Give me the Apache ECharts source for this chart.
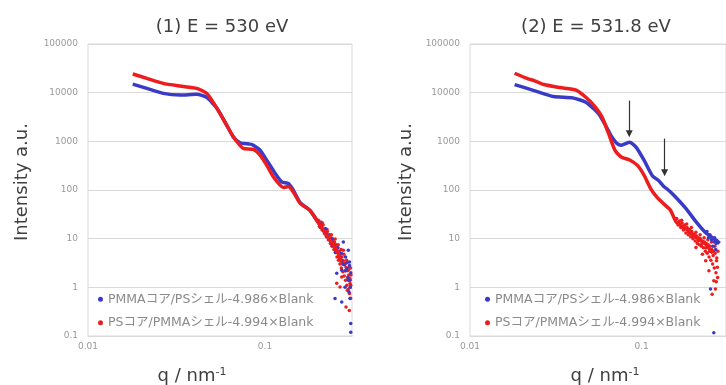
<!DOCTYPE html>
<html><head><meta charset="utf-8">
<script src="https://cdn.jsdelivr.net/npm/echarts@6/dist/echarts.min.js"></script>
<style>html,body{margin:0;padding:0;background:#fff}#c{width:726px;height:385px}</style>
</head><body><div id="c"></div>
<script>
// ---- data ----
const nameBlue = 'PMMAコア/PSシェル-4.986×Blank';
const nameRed = 'PSコア/PMMAシェル-4.994×Blank';
const titles = ['(1) E = 530 eV', '(2) E = 531.8 eV'];
const yTicks = [0.1, 1, 10, 100, 1000, 10000, 100000];
const xTicks = [0.01, 0.1];

// Panel 1 (E = 530 eV)
const q1Blue = [0.0179,0.0215,0.0266,0.0331,0.0411,0.0468,0.0534,0.0607,0.0662,0.0723,0.0823,0.0859,0.0937,0.1022,0.1139,0.1243,0.1354,0.1445,0.158,0.1796,0.1959,0.2135,0.233,0.254];
const I1Blue = [15030,12260,9675,8925,9226,8004,4820,2155,1238,931,876,835,659,410,222,147,136,99,55,38,24,15,9.3,5.9];
const q1Red = [0.0179,0.0215,0.0266,0.0331,0.0411,0.0468,0.0534,0.0607,0.0662,0.0707,0.0754,0.0859,0.0937,0.1022,0.1114,0.1216,0.1269,0.1354,0.1445,0.158,0.1796,0.1959,0.2135,0.233,0.2542,0.27];
const I1Red = [24150,19680,15540,13670,12260,9675,4820,2155,1238,905,714,681,520,324,186,126,113,118,91,53,38,24,15,9.3,5.8,3.3];
const q1BlueTail = [0.205,0.215,0.225,0.235,0.245,0.255,0.265,0.275,0.285,0.295,0.3,0.303,0.24,0.25,0.262,0.27,0.277,0.28,0.285,0.29,0.2954,0.3,0.3021,0.2954,0.2542,0.2712,0.2486,0.2712,0.3021,0.3049,0.3049,0.283,0.298,0.22,0.24,0.258,0.27,0.29,0.305];
const I1BlueTail = [20,15,12,9,7.5,5.5,4.2,3,2.2,1.6,2.8,1.0,7.2,5.2,4.6,3.6,8.5,2.9,4.2,2.4,5.8,3.3,1.4,1.39,1.94,2.24,0.59,0.5,0.59,0.18,0.12,1.0,0.8,16,10,6.5,5,3.2,2];
const q1RedTail = [0.200,0.203,0.207,0.21,0.213,0.216,0.219,0.222,0.225,0.228,0.231,0.234,0.236,0.239,0.242,0.245,0.247,0.25,0.252,0.255,0.257,0.26,0.262,0.265,0.267,0.27,0.272,0.275,0.277,0.28,0.282,0.285,0.287,0.29,0.292,0.295,0.297,0.3,0.302,0.304,0.305,0.2831,0.2954,0.3021,0.2917,0.2868,0.2994,0.2653,0.2542,0.2712,0.277,0.2629,0.304,
  0.205,0.211,0.218,0.224,0.23,0.237,0.243,0.249,0.254,0.259,0.264,0.269,0.273,0.279,0.283,0.289,0.293,0.299,0.303,0.306];
const I1RedTail = [24,18,22,15,19,13,16,11,14,9.5,12,8,10.5,7,9.5,6,8.5,5.2,7.5,4.2,6.5,3.6,5.5,3,4.8,2.5,4.2,2.1,3.5,1.7,3,1.4,2.6,1.1,2.2,0.9,1.8,0.75,1.5,0.6,1.1,3.07,2.24,1.2,0.87,0.394,0.336,1.01,1.21,1.63,5.77,4.2,2.5,
  17,21,12.5,15.5,10,12,7.5,9.8,5.5,7.5,4,6,3.3,4.8,2.2,3.6,1.6,2.6,1.0,1.8];

// Panel 2 (E = 531.8 eV)
const q2Blue = [0.0182,0.0236,0.0306,0.0397,0.0473,0.0562,0.064,0.0672,0.0717,0.0761,0.0852,0.093,0.1036,0.1154,0.1259,0.1346,0.1402,0.153,0.1819,0.2072,0.236,0.2688,0.285];
const I2Blue = [14680,11050,8310,7816,6346,3662,1660,1209,909,835,953,753,401,197,155,118,106,80,41,22.3,13.2,9.5,8];
const q2Red = [0.0182,0.0218,0.0236,0.027,0.0334,0.0415,0.0473,0.0539,0.059,0.0643,0.0701,0.0765,0.0852,0.0949,0.1036,0.113,0.1231,0.1343,0.1466,0.1598,0.1819,0.2072,0.236,0.26];
const I2Red = [25060,19230,17740,14680,12730,11310,8040,5010,3073,1419,644,469,414,316,197,106,70.5,52,39.4,21.5,15.8,10.6,7.7,5];
const q2BlueTail = [0.2518,0.2632,0.245,0.255,0.265,0.27,0.25,0.26,0.275,0.24,0.258,0.266,0.272];
const I2BlueTail = [0.92,0.117,10.5,9.5,8.5,6,12,7,9,14,10,10.5,8];
const q2RedTail = [0.16,0.163,0.166,0.169,0.172,0.175,0.178,0.181,0.184,0.187,0.19,0.193,0.196,0.199,0.202,0.205,0.208,0.211,0.214,0.217,0.22,0.223,0.226,0.229,0.232,0.235,0.238,0.241,0.244,0.247,0.25,0.253,0.256,0.259,0.262,0.265,0.268,0.271,0.274,0.277,0.2466,0.2575,0.2632,0.2688,0.226,0.236,0.2072,
  0.165,0.171,0.177,0.183,0.189,0.195,0.201,0.207,0.213,0.219,0.225,0.231,0.237,0.243,0.249,0.255,0.261,0.267,0.273,0.278,0.272,0.276];
const I2RedTail = [26,19,23,17,21,15,19,13,17,12,15.5,11,14,10,12.5,9,11.5,8,10.5,7.5,10,7,9,6.5,8.5,5.5,8,5,7.5,4.2,7,3.6,6,3,5.5,2.5,5,2,4,1.6,2.2,0.72,1.36,0.92,4.8,3.5,6.6,
  20.5,24,16.5,20,13.5,17,11,13.5,9,12,8,10.5,6.5,9.5,5.5,8.5,4.5,7,3.5,5.5,1.3,2.6];

// arrows in panel 2: [q, I_start, I_end]
const arrowQ = [0.0847, 0.1361];
const arrowFrom = [6880, 1137];
const arrowTo = [1440, 227];

// ---- chart ----
const zip = (a, b) => a.map((v, i) => [v, b[i]]);
const BLUE = '#3a3ac8', RED = '#ee1c1c';
const FONT = "'DejaVu Sans', 'Noto Sans CJK JP', sans-serif";
const fmt = v => String(parseFloat(Number(v).toPrecision(4)));

const grids = [
  {left: 88, top: 44, width: 264, height: 292},
  {left: 470, top: 44, width: 264, height: 292}
].map(g => Object.assign(g, {show: true, borderColor: '#d9d9d9', borderWidth: 1, backgroundColor: 'transparent'}));

const xAxes = [0, 1].map(i => ({
  type: 'log', logBase: 10, gridIndex: i, min: xTicks[0], max: 0.31,
  axisLine: {show: true, lineStyle: {color: '#d9d9d9'}},
  axisTick: {show: false}, splitLine: {show: false},
  axisLabel: {showMaxLabel: false, color: '#999999', fontSize: 9, fontFamily: FONT, margin: 6, formatter: fmt}
}));
const yAxes = [0, 1].map(i => ({
  type: 'log', logBase: 10, gridIndex: i, min: yTicks[0], max: yTicks[yTicks.length - 1],
  axisLine: {show: false}, axisTick: {show: false},
  splitLine: {show: true, lineStyle: {color: '#d9d9d9', width: 1}},
  axisLabel: {color: '#999999', fontSize: 9, fontFamily: FONT, margin: 10, formatter: fmt}
}));

function lineSeries(name, color, data, idx, extra) {
  return Object.assign({
    type: 'line', name, data, xAxisIndex: idx, yAxisIndex: idx,
    showSymbol: false, smooth: 0.2, itemStyle: {color},
    lineStyle: {color, width: 3.5}, emphasis: {disabled: true}, silent: true
  }, extra || {});
}
function tailSeries(name, color, data, idx) {
  return {
    type: 'scatter', name, data, xAxisIndex: idx, yAxisIndex: idx,
    symbol: 'circle', symbolSize: 3.5, itemStyle: {color, opacity: 1},
    emphasis: {disabled: true}, silent: true
  };
}

const arrowLines = arrowQ.map((q, i) => [{coord: [q, arrowFrom[i]]}, {coord: [q, arrowTo[i]]}]);

const series = [
  lineSeries(nameBlue, BLUE, zip(q1Blue, I1Blue), 0),
  lineSeries(nameRed, RED, zip(q1Red, I1Red), 0),
  tailSeries(nameRed, RED, zip(q1RedTail, I1RedTail), 0),
  tailSeries(nameBlue, BLUE, zip(q1BlueTail, I1BlueTail), 0),
  lineSeries(nameBlue, BLUE, zip(q2Blue, I2Blue), 1),
  lineSeries(nameRed, RED, zip(q2Red, I2Red), 1, {
    markLine: {
      silent: true, symbol: ['none', 'triangle'], symbolSize: 7, animation: false,
      label: {show: false}, emphasis: {disabled: true},
      lineStyle: {color: '#333333', width: 1.2, type: 'solid'},
      data: arrowLines
    }
  }),
  tailSeries(nameRed, RED, zip(q2RedTail, I2RedTail), 1),
  tailSeries(nameBlue, BLUE, zip(q2BlueTail, I2BlueTail), 1)
];

const legendBase = {
  orient: 'vertical', itemGap: 11, itemWidth: 5, itemHeight: 5, icon: 'circle',
  selectedMode: false, data: [nameBlue, nameRed],
  textStyle: {color: '#8a8a8a', fontSize: 12.5, fontFamily: FONT}
};

const TITLE_COLOR = '#404040';
const axisNameText = (x, y, rot, text) => ({
  type: 'text', x, y, rotation: rot, silent: true,
  style: {
    text, align: 'center', verticalAlign: 'middle', fill: TITLE_COLOR,
    font: '18px ' + FONT,
    rich: {s: {fontSize: 11, fontFamily: FONT, fill: TITLE_COLOR, verticalAlign: 'top', padding: [0, 0, 8, 0]}}
  }
});

const chart = echarts.init(document.getElementById('c'), null, {renderer: 'canvas'});
chart.setOption({
  animation: false,
  backgroundColor: '#ffffff',
  title: [
    {text: titles[0], left: 222, top: 18, textAlign: 'center', padding: 0,
     textStyle: {fontSize: 18, fontWeight: 'normal', color: TITLE_COLOR, fontFamily: FONT}},
    {text: titles[1], left: 596, top: 18, textAlign: 'center', padding: 0,
     textStyle: {fontSize: 18, fontWeight: 'normal', color: TITLE_COLOR, fontFamily: FONT}}
  ],
  grid: grids,
  xAxis: xAxes,
  yAxis: yAxes,
  legend: [
    Object.assign({left: 93, top: 288}, legendBase),
    Object.assign({left: 480, top: 288}, legendBase)
  ],
  graphic: [
    axisNameText(22, 182, Math.PI / 2, 'Intensity a.u.'),
    axisNameText(406, 182, Math.PI / 2, 'Intensity a.u.'),
    axisNameText(192, 376, 0, 'q / nm{s|-1}'),
    axisNameText(605, 376, 0, 'q / nm{s|-1}')
  ],
  series
});
</script></body></html>
